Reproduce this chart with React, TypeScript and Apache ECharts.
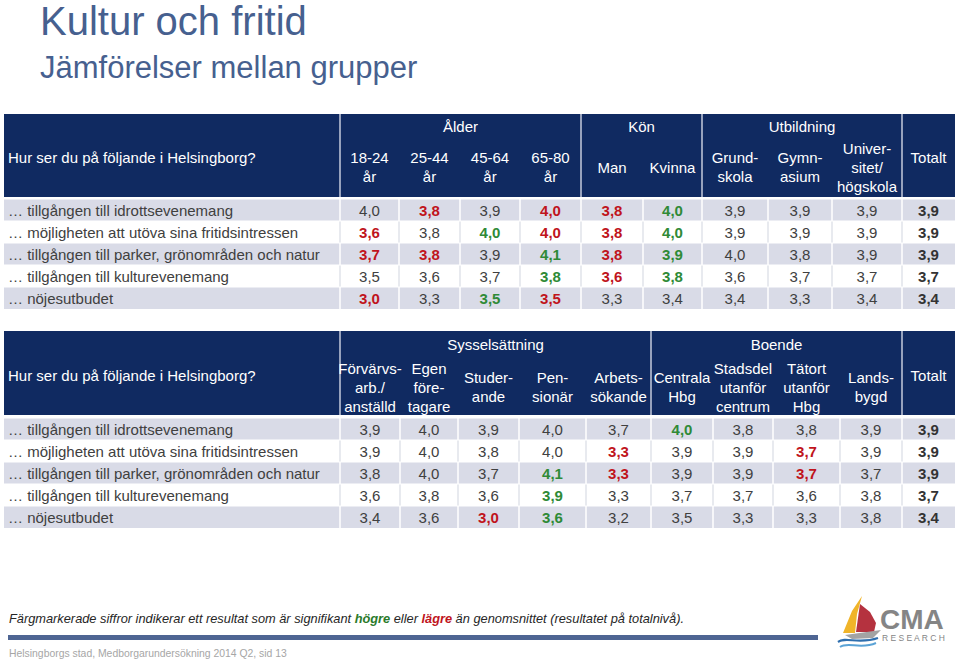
import React, { useEffect, useRef } from 'react';
import * as echarts from 'echarts';

const FONT = '"Liberation Sans", Arial, Helvetica, sans-serif';

const title = 'Kultur och fritid';
const subtitle = 'Jämförelser mellan grupper';
const question = 'Hur ser du på följande i Helsingborg?';

const rowLabels = [
  '… tillgången till idrottsevenemang',
  '… möjligheten att utöva sina fritidsintressen',
  '… tillgången till parker, grönområden och natur',
  '… tillgången till kulturevenemang',
  '… nöjesutbudet',
];

// Table 1
const t1Groups = [
  { name: 'Ålder', from: 0, to: 3 },
  { name: 'Kön', from: 4, to: 5 },
  { name: 'Utbildning', from: 6, to: 8 },
];
const t1Columns = [
  '18-24\når', '25-44\når', '45-64\når', '65-80\når', 'Man', 'Kvinna',
  'Grund-\nskola', 'Gymn-\nasium', 'Univer-\nsitet/\nhögskola', 'Totalt',
];
const t1Values = [
  [4.0, 3.8, 3.9, 4.0, 3.8, 4.0, 3.9, 3.9, 3.9, 3.9],
  [3.6, 3.8, 4.0, 4.0, 3.8, 4.0, 3.9, 3.9, 3.9, 3.9],
  [3.7, 3.8, 3.9, 4.1, 3.8, 3.9, 4.0, 3.8, 3.9, 3.9],
  [3.5, 3.6, 3.7, 3.8, 3.6, 3.8, 3.6, 3.7, 3.7, 3.7],
  [3.0, 3.3, 3.5, 3.5, 3.3, 3.4, 3.4, 3.3, 3.4, 3.4],
];
// h = significantly higher (green), l = significantly lower (red)
const t1Sig = [
  ['', 'l', '', 'l', 'l', 'h', '', '', '', ''],
  ['l', '', 'h', 'l', 'l', 'h', '', '', '', ''],
  ['l', 'l', '', 'h', 'l', 'h', '', '', '', ''],
  ['', '', '', 'h', 'l', 'h', '', '', '', ''],
  ['l', '', 'h', 'l', '', '', '', '', '', ''],
];

// Table 2
const t2Groups = [
  { name: 'Sysselsättning', from: 0, to: 4 },
  { name: 'Boende', from: 5, to: 8 },
];
const t2Columns = [
  'Förvärvs-\narb./\nanställd', 'Egen\nföre-\ntagare', 'Studer-\nande', 'Pen-\nsionär', 'Arbets-\nsökande',
  'Centrala\nHbg', 'Stadsdel\nutanför\ncentrum', 'Tätort\nutanför\nHbg', 'Lands-\nbygd', 'Totalt',
];
const t2Values = [
  [3.9, 4.0, 3.9, 4.0, 3.7, 4.0, 3.8, 3.8, 3.9, 3.9],
  [3.9, 4.0, 3.8, 4.0, 3.3, 3.9, 3.9, 3.7, 3.9, 3.9],
  [3.8, 4.0, 3.7, 4.1, 3.3, 3.9, 3.9, 3.7, 3.7, 3.9],
  [3.6, 3.8, 3.6, 3.9, 3.3, 3.7, 3.7, 3.6, 3.8, 3.7],
  [3.4, 3.6, 3.0, 3.6, 3.2, 3.5, 3.3, 3.3, 3.8, 3.4],
];
const t2Sig = [
  ['', '', '', '', '', 'h', '', '', '', ''],
  ['', '', '', '', 'l', '', '', 'l', '', ''],
  ['', '', '', 'h', 'l', '', '', 'l', '', ''],
  ['', '', '', 'h', '', '', '', '', '', ''],
  ['', '', 'l', 'h', '', '', '', '', '', ''],
];

const footnotePre = 'Färgmarkerade siffror indikerar ett resultat som är signifikant ';
const footnoteHigh = 'högre';
const footnoteMid = ' eller ';
const footnoteLow = 'lägre';
const footnotePost = ' än genomsnittet (resultatet på totalnivå).';
const footer = 'Helsingborgs stad, Medborgarundersökning 2014 Q2, sid 13';

// Layout (pixel column edges, header positions)
const TABLE_LEFT = 4;
const TABLE_RIGHT = 955;
const LABEL_EDGE = 340;
const t1Edges = [340, 399, 460, 520, 581, 643, 702, 768, 832, 902, 955];
const t2Edges = [340, 400, 458, 519, 586, 651, 713, 773, 840, 902, 955];

const NAVY = '#102a61';
const BAND = '#d9dbe7';
const TXT = '#404040';
const RED = '#c0141c';
const GREEN = '#2f8a36';

const fmt = (v: number) => v.toFixed(1).replace('.', ',');

function headerGraphics(top: number, height: number, groups: any[], columns: string[], edges: number[], colY: number, totY: number, qY: number, gY: number) {
  const els: any[] = [];
  els.push({
    type: 'rect', shape: { x: TABLE_LEFT, y: top, width: TABLE_RIGHT - TABLE_LEFT, height },
    style: { fill: NAVY }, silent: true,
  });
  els.push({
    type: 'text', x: 8, y: top + qY,
    style: { text: question, fill: '#ffffff', font: `15px ${FONT}`, align: 'left', verticalAlign: 'middle' },
  });
  const seps = [LABEL_EDGE];
  groups.forEach((g) => {
    const cx = (edges[g.from] + edges[g.to + 1]) / 2;
    els.push({
      type: 'text', x: cx, y: top + gY,
      style: { text: g.name, fill: '#ffffff', font: `15px ${FONT}`, align: 'center', verticalAlign: 'middle' },
    });
    seps.push(edges[g.to + 1]);
  });
  seps.forEach((x) => {
    els.push({
      type: 'line', shape: { x1: x, y1: top, x2: x, y2: top + height },
      style: { stroke: '#c5cbdc', lineWidth: 1.5 },
    });
  });
  columns.forEach((c, i) => {
    const cx = (edges[i] + edges[i + 1]) / 2;
    const isTotal = i === columns.length - 1;
    els.push({
      type: 'text', x: cx, y: top + (isTotal ? totY : colY),
      style: {
        text: c, fill: '#ffffff', font: `15px ${FONT}`, align: 'center', verticalAlign: 'middle',
        lineHeight: 19,
      },
    });
  });
  return els;
}

function tableSeries(idx: number, values: number[][], sig: string[][], edges: number[]) {
  return {
    type: 'custom',
    xAxisIndex: idx,
    yAxisIndex: idx,
    data: rowLabels.map((_, r) => [0, r]),
    renderItem: (params: any, api: any) => {
      const r = api.value(1);
      const c = api.coord([0, r]);
      const h = api.size([0, 1])[1];
      const top = c[1] - h / 2;
      const banded = r % 2 === 0;
      const children: any[] = [];
      children.push({
        type: 'rect', shape: { x: TABLE_LEFT, y: top, width: TABLE_RIGHT - TABLE_LEFT, height: h },
        style: { fill: banded ? BAND : '#ffffff' },
      });
      edges.slice(0, -1).forEach((x) => {
        children.push({
          type: 'line', shape: { x1: x, y1: top, x2: x, y2: top + h },
          style: { stroke: banded ? '#ffffff' : '#e1e3ea', lineWidth: 1.5 },
        });
      });
      children.push({
        type: 'line', shape: { x1: TABLE_LEFT, y1: top, x2: TABLE_RIGHT, y2: top },
        style: { stroke: '#ffffff', lineWidth: 1 },
      });
      children.push({
        type: 'text', x: 8, y: c[1],
        style: { text: rowLabels[r], fill: TXT, font: `15px ${FONT}`, align: 'left', verticalAlign: 'middle' },
      });
      values[r].forEach((v, i) => {
        const cx = (edges[i] + edges[i + 1]) / 2;
        const s = sig[r][i];
        const isTotal = i === values[r].length - 1;
        const fill = s === 'h' ? GREEN : s === 'l' ? RED : isTotal ? '#333333' : TXT;
        const bold = s !== '' || isTotal;
        children.push({
          type: 'text', x: cx, y: c[1],
          style: {
            text: fmt(v), fill, font: `${bold ? 'bold ' : ''}15px ${FONT}`,
            align: 'center', verticalAlign: 'middle',
          },
        });
      });
      return { type: 'group', children };
    },
  };
}

function logoGraphics() {
  const els: any[] = [];
  els.push({ type: 'polygon', shape: { points: [[860, 604], [870, 612], [876, 623], [874, 632], [856, 632]] }, style: { fill: '#b5323f' } });
  els.push({ type: 'polygon', shape: { points: [[862, 596], [852, 611], [843, 633], [855, 633], [857, 614]] }, style: { fill: '#f0b429' } });
  els.push({ type: 'polygon', shape: { points: [[845, 635], [881, 630], [873, 638], [852, 639]] }, style: { fill: '#a3a3a3' } });
  els.push({ type: 'bezierCurve', shape: { x1: 838, y1: 642, cpx1: 846, cpy1: 636, cpx2: 858, cpy2: 645, x2: 878, y2: 638 }, style: { stroke: '#2f6fae', lineWidth: 2.2, fill: 'none' } });
  els.push({ type: 'bezierCurve', shape: { x1: 840, y1: 647, cpx1: 848, cpy1: 641, cpx2: 860, cpy2: 650, x2: 876, y2: 643 }, style: { stroke: '#5ba3d6', lineWidth: 2, fill: 'none' } });
  els.push({
    type: 'text', x: 880, y: 619,
    style: { text: 'CMA', fill: '#858585', font: `bold 28px ${FONT}`, align: 'left', verticalAlign: 'middle' },
  });
  els.push({
    type: 'text', x: 882, y: 638,
    style: { text: 'R E S E A R C H', fill: '#858585', font: `8.5px ${FONT}`, align: 'left', verticalAlign: 'middle' },
  });
  return els;
}

export default function App() {
  const ref = useRef<HTMLDivElement>(null);
  useEffect(() => {
    document.body.style.margin = '0';
    if (!ref.current) return;
    const chart = echarts.init(ref.current, undefined, { renderer: 'svg' });
    const graphic: any[] = [
      {
        type: 'text', x: 40, y: 21,
        style: { text: title, fill: '#46608f', font: `40px ${FONT}`, align: 'left', verticalAlign: 'middle' },
      },
      {
        type: 'text', x: 40, y: 67,
        style: { text: subtitle, fill: '#46608f', font: `31px ${FONT}`, align: 'left', verticalAlign: 'middle' },
      },
      ...headerGraphics(114, 83, t1Groups, t1Columns, t1Edges, 53, 43, 43, 12),
      ...headerGraphics(331, 84, t2Groups, t2Columns, t2Edges, 56, 44, 44, 13),
      {
        type: 'text', x: 9, y: 618,
        style: {
          text: `{n|${footnotePre}}{g|${footnoteHigh}}{n|${footnoteMid}}{r|${footnoteLow}}{n|${footnotePost}}`,
          align: 'left', verticalAlign: 'middle',
          rich: {
            n: { fill: '#262626', fontStyle: 'italic', fontSize: 12.8, fontFamily: FONT },
            g: { fill: '#2a7a2a', fontStyle: 'italic', fontWeight: 'bold', fontSize: 12.8, fontFamily: FONT },
            r: { fill: '#c0141c', fontStyle: 'italic', fontWeight: 'bold', fontSize: 12.8, fontFamily: FONT },
          },
        },
      },
      { type: 'rect', shape: { x: 8, y: 635, width: 810, height: 5 }, style: { fill: '#4e6593' } },
      {
        type: 'text', x: 9, y: 653,
        style: { text: footer, fill: '#a6a6a6', font: `10.4px ${FONT}`, align: 'left', verticalAlign: 'middle' },
      },
      ...logoGraphics(),
    ];
    chart.setOption({
      animation: false,
      backgroundColor: '#ffffff',
      grid: [
        { left: TABLE_LEFT, top: 199, width: TABLE_RIGHT - TABLE_LEFT, height: 110 },
        { left: TABLE_LEFT, top: 418, width: TABLE_RIGHT - TABLE_LEFT, height: 110 },
      ],
      xAxis: [
        { type: 'value', gridIndex: 0, min: 0, max: 1, show: false },
        { type: 'value', gridIndex: 1, min: 0, max: 1, show: false },
      ],
      yAxis: [
        { type: 'category', gridIndex: 0, data: rowLabels, inverse: true, show: false },
        { type: 'category', gridIndex: 1, data: rowLabels, inverse: true, show: false },
      ],
      series: [
        tableSeries(0, t1Values, t1Sig, t1Edges),
        tableSeries(1, t2Values, t2Sig, t2Edges),
      ],
      graphic,
    });
    return () => chart.dispose();
  }, []);
  return <div ref={ref} style={{ width: 960, height: 660 }} />;
}
